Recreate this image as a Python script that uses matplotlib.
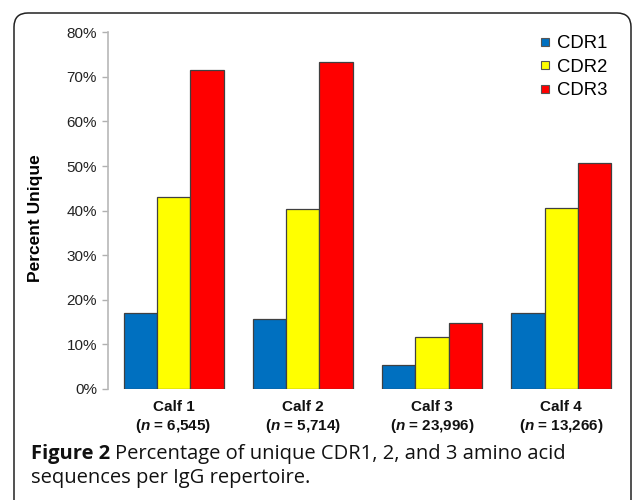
import matplotlib
matplotlib.use("Agg")
import matplotlib.pyplot as plt
import matplotlib.patches as mpatches
from matplotlib.lines import Line2D
from matplotlib.transforms import IdentityTransform
import numpy as np

calves   = ["Calf 1", "Calf 2", "Calf 3", "Calf 4"]
n_counts = ["6,545", "5,714", "23,996", "13,266"]
cdr1 = [17.1, 15.6, 5.4, 17.1]
cdr2 = [43.0, 40.3, 11.7, 40.5]
cdr3 = [71.5, 73.4, 14.9, 50.7]

series = ["CDR1", "CDR2", "CDR3"]
colors = ["#0070C0", "#FFFF00", "#FF0000"]

plt.rcParams["font.family"] = ["Liberation Sans", "DejaVu Sans"]
plt.rcParams["mathtext.fontset"] = "custom"
plt.rcParams["mathtext.it"] = "Liberation Sans:bold:italic"
plt.rcParams["mathtext.rm"] = "Liberation Sans:bold"

fig = plt.figure(figsize=(6.33, 5.0), dpi=100)
ax = fig.add_axes([108 / 633, 1 - 389 / 500, 518 / 633, (389 - 32.3) / 500])

x = np.arange(len(calves))
w = 0.258
for i, (vals, c) in enumerate(zip([cdr1, cdr2, cdr3], colors)):
    ax.bar(x + (i - 1) * w, vals, w, color=c, edgecolor="#404040", linewidth=0.9, zorder=3)

ax.set_ylim(0, 80)
ax.set_xlim(-0.507, 3.5)
ax.set_yticks(np.arange(0, 81, 10))
ax.set_yticklabels(["%d%%" % v for v in range(0, 81, 10)], fontsize=11, color="#222222")
ax.set_xticks(x)
ax.set_xticklabels(["%s\n($\\it{n}$ = %s)" % (c, n) for c, n in zip(calves, n_counts)],
                   fontsize=11, fontweight="bold", color="#111111", linespacing=1.25)
ax.tick_params(axis="x", length=0, pad=8)
ax.tick_params(axis="y", length=4, width=1, color="#b0b0b0", pad=4)
for s in ["top", "right", "bottom"]:
    ax.spines[s].set_visible(False)
ax.spines["left"].set_color("#b8b8b8")
ax.spines["left"].set_linewidth(1.2)

ax.set_ylabel("Percent Unique", fontsize=12.5, fontweight="bold")
ax.yaxis.set_label_coords(-0.125, 0.48)

handles = [Line2D([], [], marker="s", linestyle="none", markersize=6,
                  markerfacecolor=c, markeredgecolor="#555555", markeredgewidth=0.8)
           for c in colors]
fig.legend(handles, series, loc="upper left", bbox_to_anchor=(539 / 633, 1 - 35 / 500),
           frameon=False, fontsize=13.3, handlelength=0.7, handletextpad=0.3,
           labelspacing=0.36, borderpad=0, borderaxespad=0)

# rounded frame around the figure panel
frame = mpatches.FancyBboxPatch((14, -40), 617, 527,
                                boxstyle="round,pad=0,rounding_size=14",
                                transform=IdentityTransform(), fill=False,
                                edgecolor="#222222", linewidth=1.1)
fig.add_artist(frame)

# caption, bold lead-in followed by plain text
cap_font = ["Open Sans", "DejaVu Sans"]
cap_size = 14.5
lead = fig.text(31 / 633, 1 - 459 / 500, "Figure 2", fontsize=cap_size, fontweight="bold",
                family=cap_font, color="#111111", va="baseline")
fig.canvas.draw()
bb = lead.get_window_extent()
fig.text((bb.x1 + 5) / 633, 1 - 459 / 500, "Percentage of unique CDR1, 2, and 3 amino acid",
         fontsize=cap_size, family=cap_font, color="#111111", va="baseline")
fig.text(31 / 633, 1 - 483 / 500, "sequences per IgG repertoire.",
         fontsize=cap_size, family=cap_font, color="#111111", va="baseline")

fig.savefig("out.png", dpi=100)
